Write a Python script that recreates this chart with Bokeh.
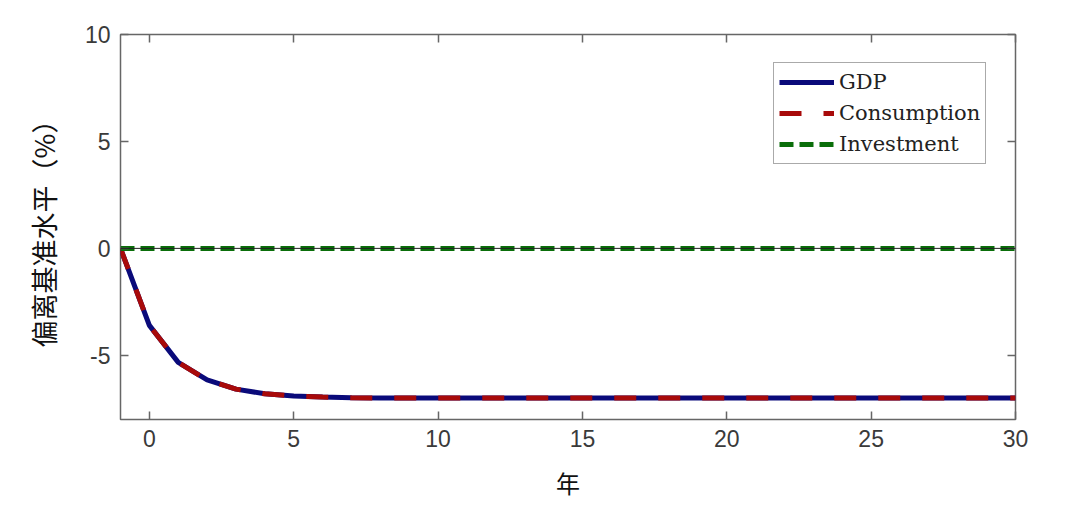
from bokeh.plotting import figure
from bokeh.models import LinearAxis, Range1d, FixedTicker, Legend, LegendItem, Span
from bokeh.embed import file_html
from bokeh.resources import INLINE

years = [-1, 0, 1, 2, 3, 4, 5, 6, 7, 8, 9, 10, 11, 12, 13, 14, 15, 16, 17, 18, 19, 20,
         21, 22, 23, 24, 25, 26, 27, 28, 29, 30]
gdp = [0.0, -3.6, -5.33, -6.15, -6.58, -6.8, -6.9, -6.95, -6.98, -7.0, -7.0, -7.0, -7.0,
       -7.0, -7.0, -7.0, -7.0, -7.0, -7.0, -7.0, -7.0, -7.0, -7.0, -7.0, -7.0, -7.0,
       -7.0, -7.0, -7.0, -7.0, -7.0, -7.0]
consumption = list(gdp)
investment = [0.0] * len(years)

x_ticks = [0, 5, 10, 15, 20, 25, 30]
y_ticks = [-5, 0, 5, 10]
y_tick_labels = {-5: "-5", 0: "0", 5: "5", 10: "10"}

p = figure(width=1064, height=502, output_backend="svg", toolbar_location=None,
           x_range=Range1d(-1, 30), y_range=Range1d(-8, 10),
           min_border_left=120, min_border_right=49, min_border_top=34, min_border_bottom=82)
p.xgrid.visible = False
p.ygrid.visible = False
p.outline_line_color = "#666666"
p.outline_line_width = 1.5
p.background_fill_color = "white"
p.border_fill_color = "white"

tick_font = "Liberation Sans"
for ax in (p.xaxis[0], p.yaxis[0]):
    ax.major_tick_in = 8
    ax.major_tick_out = 0
    ax.minor_tick_in = 0
    ax.minor_tick_out = 0
    ax.axis_line_color = None
    ax.major_tick_line_color = "#666666"
    ax.major_tick_line_width = 1.5
    ax.major_label_text_font = tick_font
    ax.major_label_text_font_size = "23px"
    ax.major_label_text_color = "#3a3a3a"
p.xaxis[0].ticker = FixedTicker(ticks=x_ticks)
p.yaxis[0].ticker = FixedTicker(ticks=y_ticks)
p.yaxis[0].major_label_overrides = y_tick_labels
p.xaxis[0].major_label_standoff = 10
p.yaxis[0].major_label_standoff = 10

p.xaxis[0].axis_label = "年"
p.yaxis[0].axis_label = "偏离基准水平（%）"
for ax in (p.xaxis[0], p.yaxis[0]):
    ax.axis_label_text_font = "Noto Sans CJK SC"
    ax.axis_label_text_font_style = "normal"
    ax.axis_label_text_color = "#111111"
p.xaxis[0].axis_label_text_font_size = "24px"
p.yaxis[0].axis_label_text_font_size = "27px"
p.xaxis[0].axis_label_standoff = 15
p.yaxis[0].axis_label_standoff = 19

top = LinearAxis(ticker=FixedTicker(ticks=x_ticks), major_label_overrides={t: "" for t in x_ticks},
                 major_tick_in=8, major_tick_out=0, minor_tick_in=0, minor_tick_out=0,
                 axis_line_color=None, major_tick_line_color="#666666", major_tick_line_width=1.5,
                 major_label_standoff=0)
right = LinearAxis(ticker=FixedTicker(ticks=y_ticks), major_label_overrides={t: "" for t in y_ticks},
                   major_tick_in=8, major_tick_out=0, minor_tick_in=0, minor_tick_out=0,
                   axis_line_color=None, major_tick_line_color="#666666", major_tick_line_width=1.5,
                   major_label_standoff=0)
p.add_layout(top, "above")
p.add_layout(right, "right")

p.add_layout(Span(location=0, dimension="width", line_color="#222222", line_width=1))

r_gdp = p.line(years, gdp, line_color="#0a0a7a", line_width=5)
r_con = p.line(years, consumption, line_color="#a80a0a", line_width=5, line_dash="22 22")
r_inv = p.line(years, investment, line_color="#0a6e0a", line_width=5, line_dash="14 6")

legend = Legend(items=[LegendItem(label="GDP", renderers=[r_gdp]),
                       LegendItem(label="Consumption", renderers=[r_con]),
                       LegendItem(label="Investment", renderers=[r_inv])],
                location=(653, 255))
legend.label_text_font = "DejaVu Serif"
legend.label_text_font_size = "21px"
legend.label_text_color = "#222222"
legend.glyph_width = 55
legend.glyph_height = 28
legend.label_height = 28
legend.spacing = 3
legend.padding = 5
legend.margin = 0
legend.label_standoff = 5
legend.border_line_color = "#555555"
legend.border_line_width = 1.5
legend.background_fill_alpha = 1
p.add_layout(legend)

open("out.html", "w").write(file_html(p, INLINE))
